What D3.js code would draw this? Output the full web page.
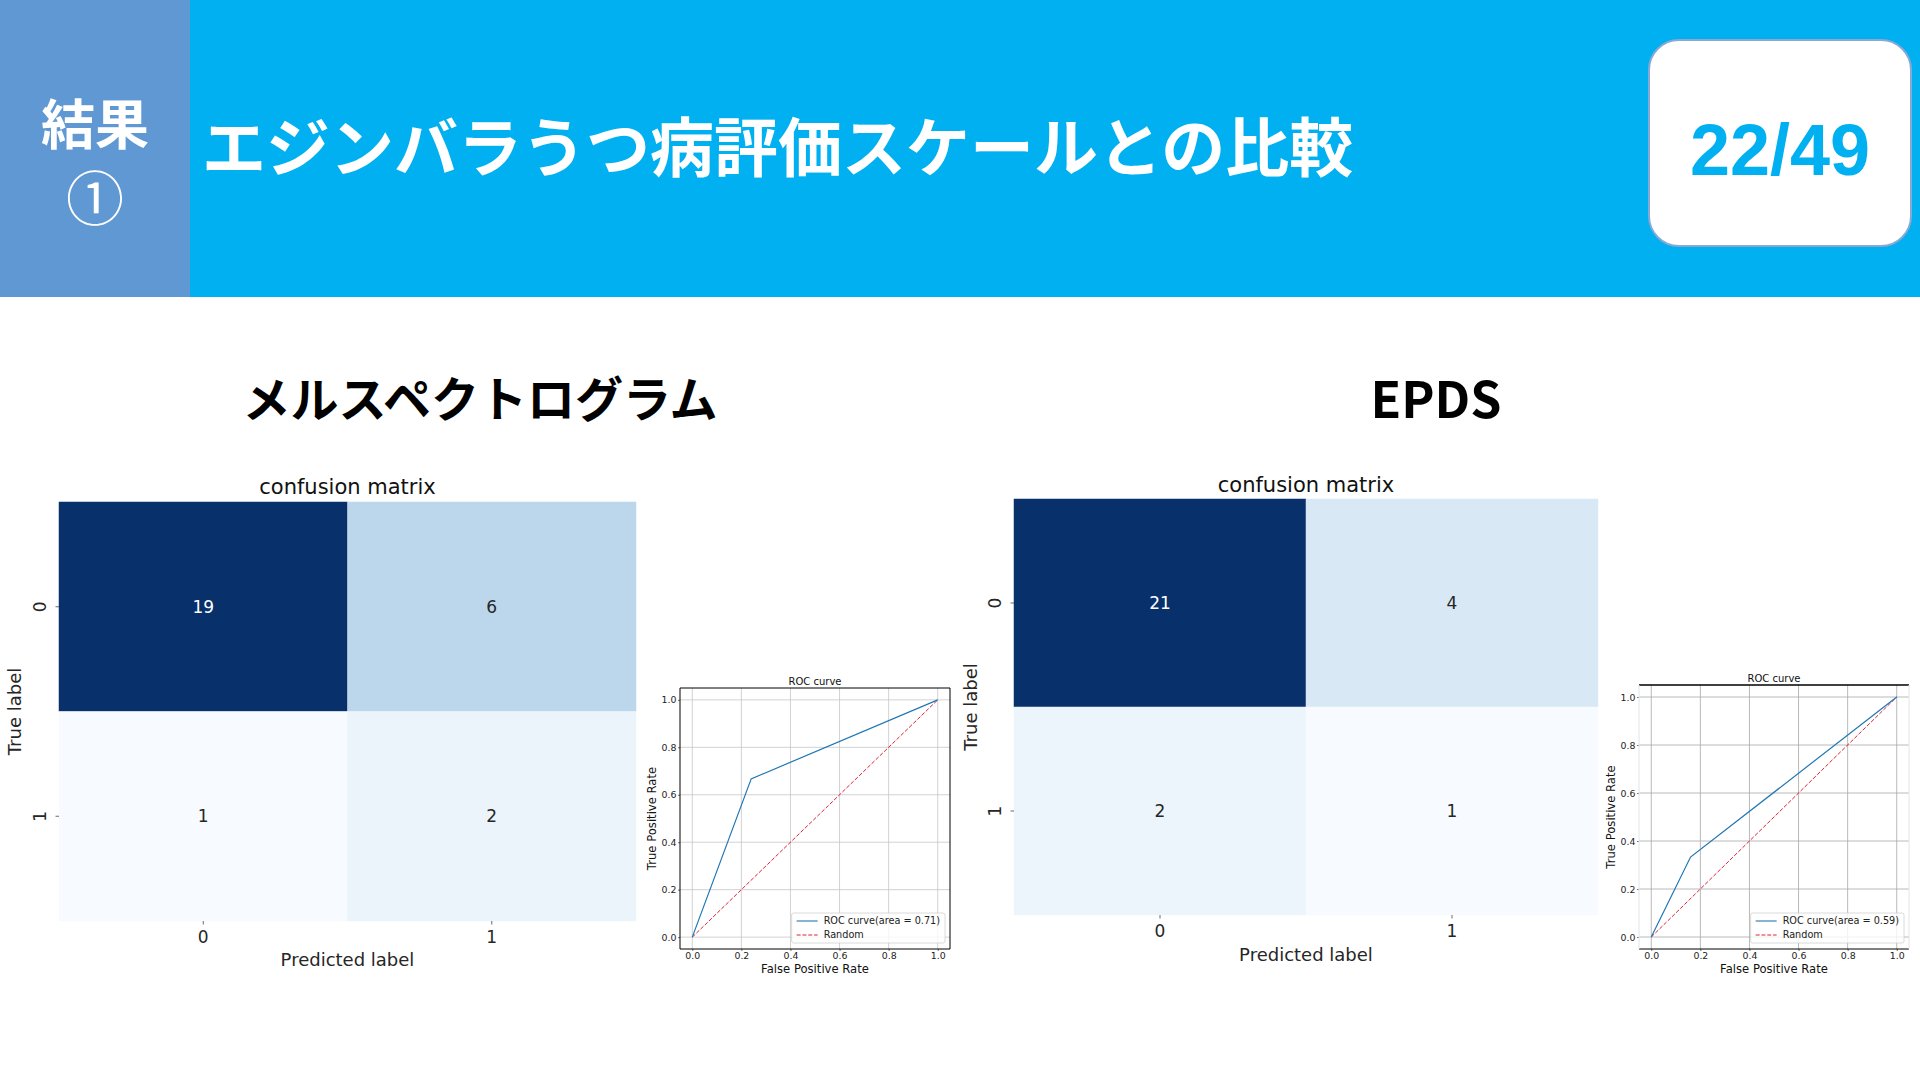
<!DOCTYPE html>
<html>
<head>
<meta charset="utf-8">
<script src="https://cdn.jsdelivr.net/npm/d3@7"></script>
<style>
  body { margin: 0; background: #fff; }
  svg { display: block; }
</style>
</head>
<body>
<div id="chart"></div>
<script>
// values
var classLabels = ["0", "1"]
var melMatrix = [[19, 6], [1, 2]]
var epdsMatrix = [[21, 4], [2, 1]]
var melFpr = [0, 0.24, 1]
var melTpr = [0, 0.667, 1]
var epdsFpr = [0, 0.16, 1]
var epdsTpr = [0, 0.333, 1]
var melAuc = "0.71"
var epdsAuc = "0.59"
var rocTicks = [0, 0.2, 0.4, 0.6, 0.8, 1.0]
var randomLine = [0, 1]

var mpl = "'DejaVu Sans', sans-serif"
var jp = "'Noto Sans CJK JP', 'Noto Sans', sans-serif"
var rocBlue = "#1f77b4"
var randomRed = "#dc2535"

var svg = d3.select("#chart").append("svg")
  .attr("width", 1920)
  .attr("height", 1080)

svg.append("rect").attr("width", 1920).attr("height", 1080).attr("fill", "#fff")

// header band
svg.append("rect").attr("width", 1920).attr("height", 297).attr("fill", "#00b0f0")
svg.append("rect").attr("width", 190).attr("height", 297).attr("fill", "#5f98d3")

svg.append("text")
  .attr("x", 95).attr("y", 145)
  .attr("text-anchor", "middle")
  .style("font-family", jp).style("font-weight", "bold").style("font-size", "54px")
  .attr("fill", "#fff")
  .text("結果")
svg.append("text")
  .attr("x", 95).attr("y", 220)
  .attr("text-anchor", "middle")
  .style("font-family", jp).style("font-size", "58px")
  .attr("fill", "#fff")
  .text("①")

svg.append("text")
  .attr("x", 202).attr("y", 171)
  .style("font-family", jp).style("font-weight", "bold").style("font-size", "64px")
  .attr("fill", "#fff")
  .text("エジンバラうつ病評価スケールとの比較")

// page number
svg.append("rect")
  .attr("x", 1649).attr("y", 40).attr("width", 262).attr("height", 206)
  .attr("rx", 30)
  .attr("fill", "#fff")
  .attr("stroke", "#86a9d6").attr("stroke-width", 2)
svg.append("text")
  .attr("x", 1780).attr("y", 175)
  .attr("text-anchor", "middle")
  .style("font-family", "'Liberation Sans', Arial, sans-serif")
  .style("font-weight", "bold").style("font-size", "72px")
  .attr("fill", "#00b0f0")
  .text("22/49")

// section headings
svg.append("text")
  .attr("x", 480).attr("y", 417)
  .attr("text-anchor", "middle")
  .style("font-family", jp).style("font-weight", "bold").style("font-size", "48px")
  .attr("fill", "#000")
  .text("メルスペクトログラム")
svg.append("text")
  .attr("x", 1436).attr("y", 418)
  .attr("text-anchor", "middle")
  .style("font-family", jp).style("font-weight", "bold").style("font-size", "50px")
  .attr("fill", "#000")
  .text("EPDS")

function buildMatrix(matrix, box) {
  var g = svg.append("g").attr("transform", "translate(" + box.x + "," + box.y + ")")

  var x = d3.scaleBand().domain(classLabels).range([0, box.w])
  var y = d3.scaleBand().domain(classLabels).range([0, box.h])

  var cells = []
  matrix.forEach(function(row, i) {
    row.forEach(function(v, j) {
      cells.push({ truth: classLabels[i], pred: classLabels[j], value: v })
    })
  })

  var color = d3.scaleSequential(d3.interpolateBlues)
    .domain(d3.extent(cells, d => d.value))

  g.selectAll("rect.cell")
    .data(cells)
    .enter()
    .append("rect")
    .attr("class", "cell")
    .attr("x", d => x(d.pred))
    .attr("y", d => y(d.truth))
    .attr("width", x.bandwidth())
    .attr("height", y.bandwidth())
    .attr("fill", d => color(d.value))
    .attr("stroke", d => color(d.value))
    .attr("stroke-width", 0.5)

  g.selectAll("text.annot")
    .data(cells)
    .enter()
    .append("text")
    .attr("class", "annot")
    .attr("x", d => x(d.pred) + x.bandwidth() / 2)
    .attr("y", d => y(d.truth) + y.bandwidth() / 2)
    .attr("dy", "0.36em")
    .attr("text-anchor", "middle")
    .style("font-family", mpl).style("font-size", "17px")
    .attr("fill", d => d3.lab(color(d.value)).l < 50 ? "#fff" : "#262626")
    .text(d => d.value)

  // y axis (rotated labels like seaborn)
  var yAxis = g.append("g")
    .call(d3.axisLeft(y).tickSize(3.5).tickSizeOuter(0))
  yAxis.select(".domain").remove()
  yAxis.selectAll("line").attr("stroke", "#444").attr("stroke-width", 0.8)
  yAxis.selectAll("text")
    .attr("x", null).attr("dy", null)
    .attr("transform", "translate(-13,0) rotate(-90)")
    .attr("text-anchor", "middle")
    .style("font-family", mpl).style("font-size", "17px")
    .attr("fill", "#262626")

  var xAxis = g.append("g")
    .attr("transform", "translate(0," + box.h + ")")
    .call(d3.axisBottom(x).tickSize(3.5).tickPadding(6.5).tickSizeOuter(0))
  xAxis.select(".domain").remove()
  xAxis.selectAll("line").attr("stroke", "#444").attr("stroke-width", 0.8)
  xAxis.selectAll("text")
    .style("font-family", mpl).style("font-size", "17px")
    .attr("fill", "#262626")

  g.append("text")
    .attr("x", box.w / 2).attr("y", -box.titleGap)
    .attr("dy", "0.35em")
    .attr("text-anchor", "middle")
    .style("font-family", mpl).style("font-size", "21px")
    .attr("fill", "#111")
    .text("confusion matrix")

  g.append("text")
    .attr("x", box.w / 2).attr("y", box.h + box.xLabelGap)
    .attr("dy", "0.35em")
    .attr("text-anchor", "middle")
    .style("font-family", mpl).style("font-size", "18px")
    .attr("fill", "#262626")
    .text("Predicted label")

  g.append("text")
    .attr("transform", "translate(" + (-box.yLabelGap) + "," + (box.h / 2) + ") rotate(-90)")
    .attr("dy", "0.35em")
    .attr("text-anchor", "middle")
    .style("font-family", mpl).style("font-size", "18px")
    .attr("fill", "#262626")
    .text("True label")
}

function buildRoc(fpr, tpr, auc, box) {
  var g = svg.append("g").attr("transform", "translate(" + box.x + "," + box.y + ")")

  var x = d3.scaleLinear().domain([-0.05, 1.05]).range([0, box.w])
  var y = d3.scaleLinear().domain([-0.05, 1.05]).range([box.h, 0])

  // grid
  g.selectAll("line.gx")
    .data(rocTicks)
    .enter()
    .append("line")
    .attr("x1", d => x(d)).attr("x2", d => x(d))
    .attr("y1", 0).attr("y2", box.h)
    .attr("stroke", box.grid).attr("stroke-width", 0.8)
  g.selectAll("line.gy")
    .data(rocTicks)
    .enter()
    .append("line")
    .attr("y1", d => y(d)).attr("y2", d => y(d))
    .attr("x1", 0).attr("x2", box.w)
    .attr("stroke", box.grid).attr("stroke-width", 0.8)

  var xAxis = g.append("g")
    .attr("transform", "translate(0," + box.h + ")")
    .call(d3.axisBottom(x).tickValues(rocTicks).tickFormat(d3.format(".1f"))
      .tickSize(2).tickPadding(1.5).tickSizeOuter(0))
  var yAxis = g.append("g")
    .call(d3.axisLeft(y).tickValues(rocTicks).tickFormat(d3.format(".1f"))
      .tickSize(2).tickPadding(1.5).tickSizeOuter(0))
  ;[xAxis, yAxis].forEach(function(a) {
    a.select(".domain").remove()
    a.selectAll("line").attr("stroke", "#333").attr("stroke-width", 0.7)
    a.selectAll("text")
      .style("font-family", mpl).style("font-size", "9.4px")
      .attr("fill", "#222")
  })

  // spines
  g.append("line").attr("x1", 0).attr("x2", box.w).attr("y1", 0).attr("y2", 0)
    .attr("stroke", "#000").attr("stroke-width", box.topWidth)
  g.append("line").attr("x1", 0).attr("x2", box.w).attr("y1", box.h).attr("y2", box.h)
    .attr("stroke", "#000").attr("stroke-width", 1)
  g.append("line").attr("x1", 0).attr("x2", 0).attr("y1", 0).attr("y2", box.h)
    .attr("stroke", box.side).attr("stroke-width", 1)
  g.append("line").attr("x1", box.w).attr("x2", box.w).attr("y1", 0).attr("y2", box.h)
    .attr("stroke", box.side).attr("stroke-width", 1)

  var line = d3.line().x(d => x(d[0])).y(d => y(d[1]))

  g.append("path")
    .datum(d3.zip(randomLine, randomLine))
    .attr("d", line)
    .attr("fill", "none")
    .attr("stroke", randomRed).attr("stroke-width", 1)
    .attr("stroke-dasharray", "4,1.8")

  g.append("path")
    .datum(d3.zip(fpr, tpr))
    .attr("d", line)
    .attr("fill", "none")
    .attr("stroke", rocBlue).attr("stroke-width", 1.2)

  g.append("text")
    .attr("x", box.w / 2).attr("y", -3.5)
    .attr("text-anchor", "middle")
    .style("font-family", mpl).style("font-size", "10px")
    .attr("fill", "#111")
    .text("ROC curve")

  g.append("text")
    .attr("x", box.w / 2).attr("y", box.h + 20)
    .attr("dy", "0.35em")
    .attr("text-anchor", "middle")
    .style("font-family", mpl).style("font-size", "11.6px")
    .attr("fill", "#111")
    .text("False Positive Rate")

  g.append("text")
    .attr("transform", "translate(-28," + (box.h / 2) + ") rotate(-90)")
    .attr("dy", "0.35em")
    .attr("text-anchor", "middle")
    .style("font-family", mpl).style("font-size", "11.6px")
    .attr("fill", "#111")
    .text("True Positive Rate")

  // legend, lower right
  var entries = [
    { label: "ROC curve(area = " + auc + ")", color: rocBlue, dash: null },
    { label: "Random", color: randomRed, dash: "4,1.8" }
  ]
  var leg = g.append("g")
  var legBox = leg.append("rect")
    .attr("fill", "#fff").attr("fill-opacity", 0.8)
    .attr("stroke", "#d0d0d0").attr("stroke-width", 0.8)
    .attr("rx", 2)
  var rows = leg.selectAll("g.row")
    .data(entries)
    .enter()
    .append("g")
    .attr("transform", (d, i) => "translate(0," + (i * 14) + ")")
  rows.append("line")
    .attr("x1", 5).attr("x2", 26).attr("y1", 0).attr("y2", 0)
    .attr("stroke", d => d.color).attr("stroke-width", 1.1)
    .attr("stroke-dasharray", d => d.dash)
  rows.append("text")
    .attr("x", 32).attr("dy", "0.35em")
    .style("font-family", mpl).style("font-size", "9.7px")
    .attr("fill", "#222")
    .text(d => d.label)
  var textW = d3.max(rows.selectAll("text").nodes(), n => n.getComputedTextLength())
  var legW = 32 + textW + 5, legH = 30
  legBox.attr("x", 0).attr("y", -8).attr("width", legW).attr("height", legH)
  leg.attr("transform", "translate(" + (box.w - 5 - legW) + "," + (box.h - 6 - legH + 8) + ")")
}

buildMatrix(melMatrix, { x: 59, y: 502, w: 577, h: 419, titleGap: 15, xLabelGap: 39, yLabelGap: 44 })
buildMatrix(epdsMatrix, { x: 1014, y: 499, w: 584, h: 416, titleGap: 14, xLabelGap: 40, yLabelGap: 43 })

buildRoc(melFpr, melTpr, melAuc, { x: 680, y: 688, w: 270, h: 261, grid: "#c6c6c6", side: "#000", topWidth: 1 })
buildRoc(epdsFpr, epdsTpr, epdsAuc, { x: 1639, y: 685, w: 270, h: 264, grid: "#a8a8a8", side: "#e4e4e4", topWidth: 1.6 })
</script>
</body>
</html>
